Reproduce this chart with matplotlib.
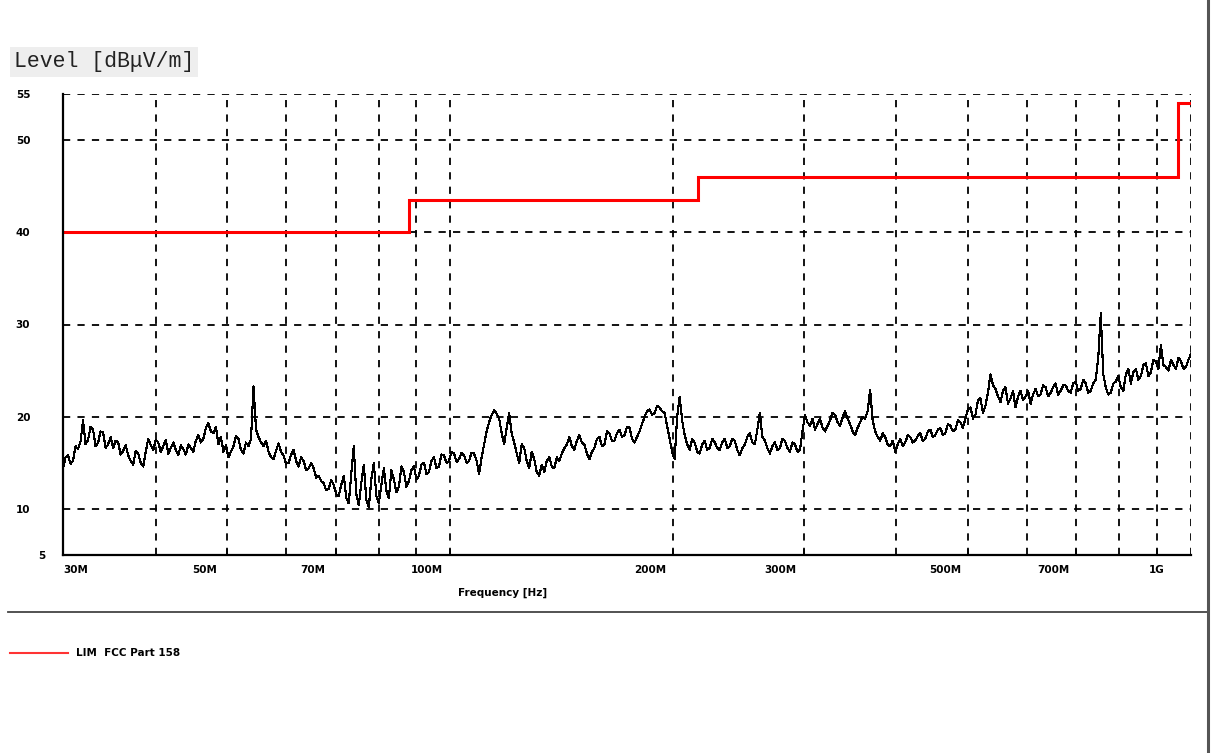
import numpy as np
import matplotlib
matplotlib.use('Agg')
import matplotlib.pyplot as plt
from matplotlib.lines import Line2D
from matplotlib.transforms import ScaledTranslation

# Limit line FCC Part 15B (frequency edges in Hz, level in dBuV/m)
limit_freq = [30e6, 88e6, 88e6, 216e6, 216e6, 960e6, 960e6, 1e9]
limit_level = [40, 40, 43.5, 43.5, 46, 46, 54, 54]

level = [
    14.4, 15.6, 15.8, 14.9, 15.2, 16.8, 16.5, 17.3, 19.6, 17.0, 17.5, 18.9, 18.6, 16.8, 17.2, 18.4, 18.3, 16.6, 17.0, 17.8,
    16.6, 17.4, 17.2, 15.9, 16.3, 16.9, 15.8, 15.2, 14.8, 16.3, 16.0, 15.0, 14.6, 16.2, 17.6, 16.9, 16.4, 17.5, 17.2, 16.2,
    16.8, 17.5, 16.0, 16.6, 17.2, 16.4, 15.8, 16.9, 16.5, 15.9, 17.0, 16.6, 16.2, 17.4, 18.0, 17.2, 17.6, 18.8, 19.3, 18.4,
    18.2, 18.9, 17.0, 17.8, 16.2, 16.9, 15.6, 16.2, 16.8, 17.9, 17.6, 16.4, 16.0, 17.2, 16.8, 17.6, 23.3, 18.6, 17.8, 17.2,
    16.8, 17.4, 16.2, 15.6, 15.4, 16.3, 17.1, 16.2, 15.8, 14.9, 15.0, 15.9, 16.4, 15.2, 14.6, 15.6, 15.2, 14.2, 14.4, 15.0,
    14.4, 13.4, 13.6, 13.0, 12.8, 12.0, 12.2, 13.1, 12.6, 11.6, 11.4, 12.6, 13.6, 11.2, 10.6, 13.8, 16.8, 11.6, 10.4, 12.8,
    14.8, 11.0, 10.2, 13.2, 15.0, 11.4, 10.6, 12.6, 14.4, 12.0, 11.2, 14.2, 13.2, 11.8, 12.4, 14.6, 14.0, 12.4, 13.0, 14.2,
    14.6, 13.2, 13.6, 14.8, 15.0, 13.8, 14.0, 15.2, 15.6, 14.4, 14.6, 15.9, 15.8, 15.0, 15.2, 16.2, 16.0, 15.1, 15.4, 16.1,
    15.8, 15.0, 15.2, 16.1, 16.0, 15.2, 13.8, 15.6, 17.0, 18.4, 19.4, 20.2, 20.7, 20.3, 19.8, 18.2, 17.0, 18.8, 20.4, 18.2,
    17.2, 16.0, 15.0, 17.0, 16.6, 15.2, 14.4, 16.2, 15.4, 14.0, 13.6, 14.8, 14.0, 15.2, 15.6, 14.6, 14.4, 15.6, 15.2, 16.0,
    16.6, 17.0, 17.8, 16.8, 16.4, 17.4, 18.0, 17.2, 17.0, 16.0, 15.4, 16.2, 16.6, 17.6, 17.8, 16.8, 17.0, 18.4, 18.2, 17.4,
    17.4, 18.2, 18.6, 17.8, 18.0, 18.9, 18.8, 17.6, 17.2, 17.8, 18.4, 19.2, 20.0, 20.6, 20.8, 20.2, 20.4, 21.2, 21.0, 20.6,
    20.4, 19.0, 17.6, 16.2, 15.4, 20.0, 22.1, 19.6, 18.0, 17.0, 16.4, 17.6, 17.2, 16.2, 16.0, 17.0, 17.4, 16.4, 16.6, 17.6,
    17.2, 16.6, 16.4, 17.2, 17.6, 16.6, 16.8, 17.6, 17.4, 16.4, 15.8, 16.6, 17.0, 17.8, 18.2, 17.2, 17.0, 18.6, 20.4, 17.8,
    17.4, 16.6, 16.0, 16.8, 17.2, 16.4, 16.6, 17.6, 17.4, 16.6, 16.2, 17.2, 17.0, 16.2, 16.4, 18.4, 20.2, 19.4, 19.0, 19.8,
    18.6, 19.2, 19.8, 18.8, 18.4, 19.0, 19.6, 20.4, 20.2, 19.4, 19.0, 19.9, 20.6, 19.8, 19.2, 18.4, 18.0, 18.8, 19.4, 20.0,
    19.8, 20.6, 22.9, 19.6, 18.4, 17.8, 17.4, 18.2, 17.8, 17.0, 16.8, 17.4, 16.2, 17.0, 17.6, 16.8, 17.2, 18.0, 17.8, 17.2,
    17.4, 17.9, 18.2, 17.4, 17.6, 18.4, 18.6, 17.8, 18.0, 18.6, 18.8, 18.0, 18.2, 19.2, 19.0, 18.4, 18.6, 19.6, 19.4, 18.8,
    19.8, 20.8, 21.0, 19.8, 20.2, 21.8, 22.0, 20.4, 21.2, 22.6, 24.6, 23.4, 23.0, 22.2, 21.6, 22.8, 23.2, 21.4, 22.0, 22.8,
    21.0, 22.2, 22.8, 21.8, 22.2, 22.8, 21.4, 22.4, 23.0, 22.2, 22.4, 23.4, 23.2, 22.2, 22.6, 23.2, 23.6, 22.4, 22.8, 23.4,
    23.4, 22.8, 22.6, 23.6, 23.8, 22.8, 23.0, 24.0, 23.6, 22.6, 22.8, 23.6, 24.0, 26.4, 31.2, 24.6, 23.2, 22.4, 22.6, 23.6,
    23.8, 24.4, 23.2, 22.8, 24.6, 25.2, 23.6, 24.8, 25.2, 24.0, 24.4, 25.6, 25.8, 24.4, 24.8, 26.2, 26.0, 25.2, 27.8, 25.6,
    25.4, 25.0, 26.2, 25.6, 25.2, 26.4, 26.0, 25.2, 25.4, 26.2, 26.8,
]
freq = np.geomspace(30e6, 1e9, len(level))

# Axis ticks
x_ticks = [30e6, 50e6, 70e6, 100e6, 200e6, 300e6, 500e6, 700e6, 900e6]
x_labels = ['30M', '50M', '70M', '100M', '200M', '300M', '500M', '700M', '1G']
x_grid = [40e6, 60e6, 80e6, 90e6, 400e6, 600e6, 800e6, 1e9]
y_ticks = [5, 10, 20, 30, 40, 50, 55]

fig = plt.figure(figsize=(12.16, 7.53), dpi=100)
ax = fig.add_axes([63 / 1216, 1 - 555 / 753, 1128 / 1216, 461 / 753])

ax.plot(freq, level, color='black', lw=0.8, antialiased=False)
ax.plot(limit_freq, limit_level, color='#ff0000', lw=2.2, solid_joinstyle='miter')

ax.set_xscale('log')
ax.set_xlim(30e6, 1e9)
ax.set_ylim(5, 55)

# grid
for f in x_ticks[1:] + x_grid:
    ax.axvline(f, color='black', lw=1.3, ls=(0, (4, 4)), zorder=0)
for v in y_ticks[1:]:
    ax.axhline(v, color='black', lw=1.3, ls=(0, (4, 4)), zorder=0)

ax.spines['top'].set_visible(False)
ax.spines['right'].set_visible(False)
ax.spines['left'].set_linewidth(1.6)
ax.spines['bottom'].set_linewidth(1.6)

lbl_font = dict(family='DejaVu Sans', weight='bold', size=7.5)

ax.xaxis.set_minor_locator(matplotlib.ticker.NullLocator())
ax.set_xticks(x_ticks, x_labels, **lbl_font)
ax.tick_params(axis='x', direction='in', length=4, width=1.2, pad=7)
for t, lab in zip(x_ticks, ax.get_xticklabels()):
    if t == 30e6:
        lab.set_ha('left')
    elif t != 900e6:
        lab.set_transform(lab.get_transform() + ScaledTranslation(-23 / 100, 0, fig.dpi_scale_trans))

ax.set_yticks(y_ticks, [str(v) for v in y_ticks], **lbl_font)
ax.tick_params(axis='y', length=0, pad=34)
for v, lab in zip(y_ticks, ax.get_yticklabels()):
    lab.set_ha('left')
    if v == 5:
        lab.set_transform(lab.get_transform() + ScaledTranslation(22 / 100, 0, fig.dpi_scale_trans))

fig.text(503 / 1216, 1 - 593 / 753, 'Frequency [Hz]', ha='center', va='center', **lbl_font)

fig.text(14 / 1216, 1 - 62 / 753, 'Level [dB\u03bcV/m]', ha='left', va='center',
         family='Liberation Mono', size=15.5, color='#222222',
         bbox=dict(facecolor='#eeeeee', edgecolor='none', pad=3))

# frame lines
fig.add_artist(Line2D([8 / 1216, 1208 / 1216], [1 - 612 / 753] * 2, color='#444444', lw=1.3))
fig.add_artist(Line2D([1208 / 1216] * 2, [0, 1], color='#555555', lw=2.2))

# legend
fig.add_artist(Line2D([10 / 1216, 68 / 1216], [1 - 653 / 753] * 2, color='#ff3333', lw=1.5))
fig.text(76 / 1216, 1 - 653 / 753, 'LIM  FCC Part 158', ha='left', va='center', **lbl_font)

fig.savefig('out.png', dpi=100, facecolor='white')
